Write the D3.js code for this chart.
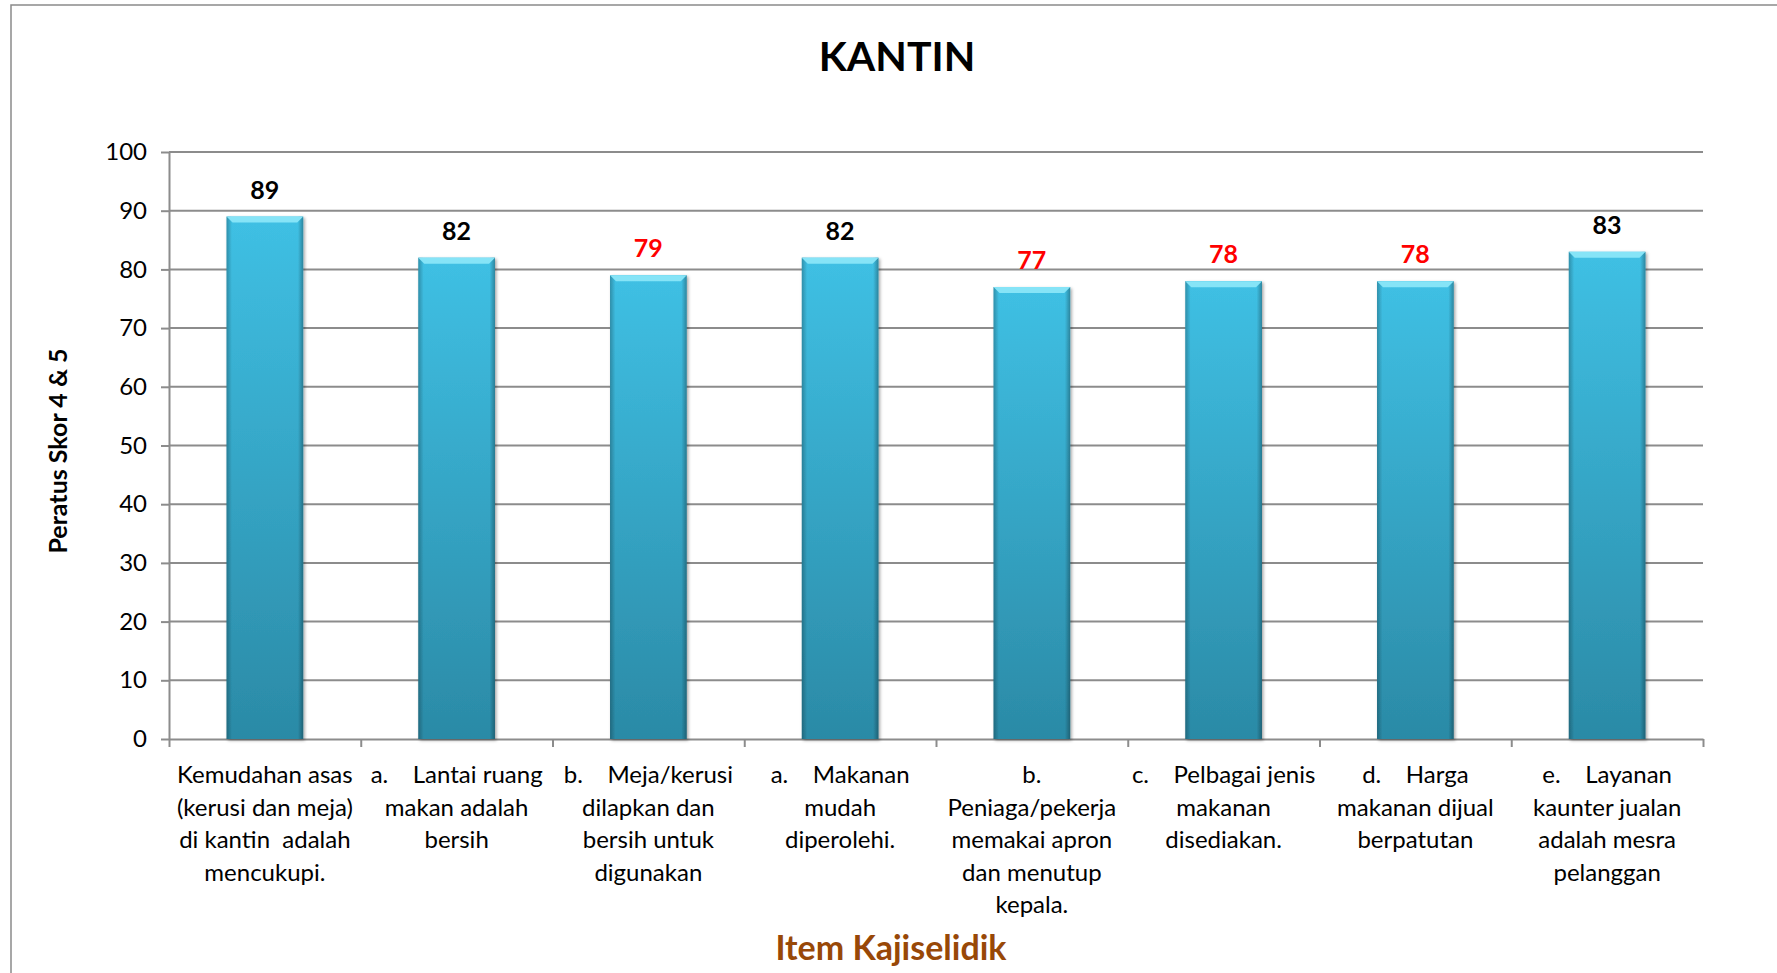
<!DOCTYPE html>
<html lang="ms">
<head>
<meta charset="UTF-8">
<title>KANTIN</title>
<style>
  body { margin: 0; background: #fff; }
  svg { display: block; font-family: Lato, "Open Sans", sans-serif; }
  .grid line { stroke: #8c8c8c; stroke-width: 2px; }
  .axis path, .axis line { stroke: #8c8c8c; stroke-width: 2px; }
  .axis text { fill: #000; font-size: 24px; font-family: Lato, sans-serif; }
  .cat { font-size: 24px; fill: #000; text-anchor: middle; white-space: pre; }
  .val { font-size: 25px; font-weight: 700; text-anchor: middle; }
</style>
</head>
<body>
<script src="https://cdnjs.cloudflare.com/ajax/libs/d3/7.8.5/d3.min.js"></script>
<script>

var categories = [
  ["Kemudahan asas", "(kerusi dan meja)", "di kantin  adalah", "mencukupi."],
  ["a.    Lantai ruang", "makan adalah", "bersih"],
  ["b.    Meja/kerusi", "dilapkan dan", "bersih untuk", "digunakan"],
  ["a.    Makanan", "mudah", "diperolehi."],
  ["b.", "Peniaga/pekerja", "memakai apron", "dan menutup", "kepala."],
  ["c.    Pelbagai jenis", "makanan", "disediakan."],
  ["d.    Harga", "makanan dijual", "berpatutan"],
  ["e.    Layanan", "kaunter jualan", "adalah mesra", "pelanggan"]
];
var values = [89, 82, 79, 82, 77, 78, 78, 83];
var yTicks = [0, 10, 20, 30, 40, 50, 60, 70, 80, 90, 100];

var title = "KANTIN",
    yTitle = "Peratus Skor 4 & 5",
    xTitle = "Item Kajiselidik";

var width = 1777,
    height = 973,
    x0 = 169, x1 = 1703,
    yTop = 152, yBottom = 739;

var svg = d3.select("body").append("svg")
  .attr("width", width)
  .attr("height", height);

var defs = svg.append("defs");

var barGrad = defs.append("linearGradient")
  .attr("id", "barGrad")
  .attr("x1", 0).attr("y1", 0).attr("x2", 0).attr("y2", 1);
barGrad.append("stop").attr("offset", "0%").attr("stop-color", "#3fc0e4");
barGrad.append("stop").attr("offset", "100%").attr("stop-color", "#2b8aa6");

var sideGrad = defs.append("linearGradient")
  .attr("id", "sideGrad")
  .attr("x1", 0).attr("y1", 0).attr("x2", 1).attr("y2", 0);
sideGrad.append("stop").attr("offset", "0%").attr("stop-color", "#000").attr("stop-opacity", 0.25);
sideGrad.append("stop").attr("offset", "7%").attr("stop-color", "#000").attr("stop-opacity", 0);
sideGrad.append("stop").attr("offset", "93%").attr("stop-color", "#000").attr("stop-opacity", 0);
sideGrad.append("stop").attr("offset", "100%").attr("stop-color", "#000").attr("stop-opacity", 0.3);

var shadow = defs.append("filter")
  .attr("id", "shadow")
  .attr("x", "-20%").attr("y", "-5%").attr("width", "140%").attr("height", "110%");
shadow.append("feDropShadow")
  .attr("dx", 1.5).attr("dy", 1.5)
  .attr("stdDeviation", 1.5)
  .attr("flood-color", "#000")
  .attr("flood-opacity", 0.35);

// chart area border (runs off the right and bottom edges)
svg.append("rect")
  .attr("x", 11).attr("y", 5)
  .attr("width", 1800).attr("height", 1000)
  .attr("fill", "none")
  .attr("stroke", "#8a8a8a")
  .attr("stroke-width", 1.5);

var x = d3.scaleBand()
  .domain(d3.range(values.length))
  .range([x0, x1])
  .paddingInner(0.6)
  .paddingOuter(0.3);

var xEdges = d3.scaleLinear()
  .domain([0, values.length])
  .range([x0, x1]);

var y = d3.scaleLinear()
  .domain([0, 100])
  .range([yBottom, yTop]);

// gridlines
svg.append("g")
  .attr("class", "grid")
  .selectAll("line")
  .data(yTicks.filter(function(d){ return d > 0; }))
  .enter()
  .append("line")
    .attr("x1", x0)
    .attr("x2", x1)
    .attr("y1", function(d){ return y(d); })
    .attr("y2", function(d){ return y(d); });

// y axis
svg.append("g")
  .attr("class", "axis")
  .attr("transform", "translate(" + x0 + ",0)")
  .call(d3.axisLeft(y).tickValues(yTicks).tickSize(8).tickSizeOuter(0).tickPadding(14));

// x axis, ticks between categories
svg.append("g")
  .attr("class", "axis")
  .attr("transform", "translate(0," + yBottom + ")")
  .call(d3.axisBottom(xEdges).ticks(values.length).tickSize(8).tickSizeOuter(0).tickFormat(""));

// bars
var bars = svg.append("g")
  .selectAll("g")
  .data(values)
  .enter()
  .append("g")
    .attr("filter", "url(#shadow)");

bars.append("rect")
  .attr("x", function(d, i){ return x(i); })
  .attr("y", function(d){ return y(d); })
  .attr("width", x.bandwidth())
  .attr("height", function(d){ return yBottom - y(d); })
  .attr("fill", "url(#barGrad)");

bars.append("rect")
  .attr("x", function(d, i){ return x(i); })
  .attr("y", function(d){ return y(d); })
  .attr("width", x.bandwidth())
  .attr("height", function(d){ return yBottom - y(d); })
  .attr("fill", "url(#sideGrad)");

// top bevel
bars.append("path")
  .attr("fill", "#86e4f7")
  .attr("d", function(d, i){
    var l = x(i), r = l + x.bandwidth(), t = y(d), b = 6;
    return "M" + [l, t] + "L" + [r, t] + "L" + [r - b, t + b] + "L" + [l + b, t + b] + "Z";
  });

// value labels
svg.append("g")
  .selectAll("text")
  .data(values)
  .enter()
  .append("text")
    .attr("class", "val")
    .attr("x", function(d, i){ return x(i) + x.bandwidth() / 2; })
    .attr("y", function(d){ return y(d) - 18; })
    .attr("fill", function(d){ return d < 80 ? "#ff0000" : "#000"; })
    .text(function(d){ return d; });

// category labels
var cats = svg.append("g")
  .selectAll("text")
  .data(categories)
  .enter()
  .append("text")
    .attr("class", "cat")
    .attr("xml:space", "preserve")
    .attr("x", function(d, i){ return x(i) + x.bandwidth() / 2; })
    .attr("y", 783);

cats.selectAll("tspan")
  .data(function(d){ return d; })
  .enter()
  .append("tspan")
    .attr("x", function(){ return this.parentNode.getAttribute("x"); })
    .attr("dy", function(d, i){ return i ? 32.5 : 0; })
    .text(function(d){ return d; });

// titles
svg.append("text")
  .attr("x", 897)
  .attr("y", 71)
  .attr("text-anchor", "middle")
  .style("font-size", "41px")
  .style("font-weight", 700)
  .text(title);

svg.append("text")
  .attr("transform", "translate(67,451) rotate(-90)")
  .attr("text-anchor", "middle")
  .style("font-size", "25px")
  .style("font-weight", 700)
  .text(yTitle);

svg.append("text")
  .attr("x", 891)
  .attr("y", 960)
  .attr("text-anchor", "middle")
  .style("font-size", "34px")
  .style("font-weight", 700)
  .attr("fill", "#984807")
  .text(xTitle);

</script>
</body>
</html>
